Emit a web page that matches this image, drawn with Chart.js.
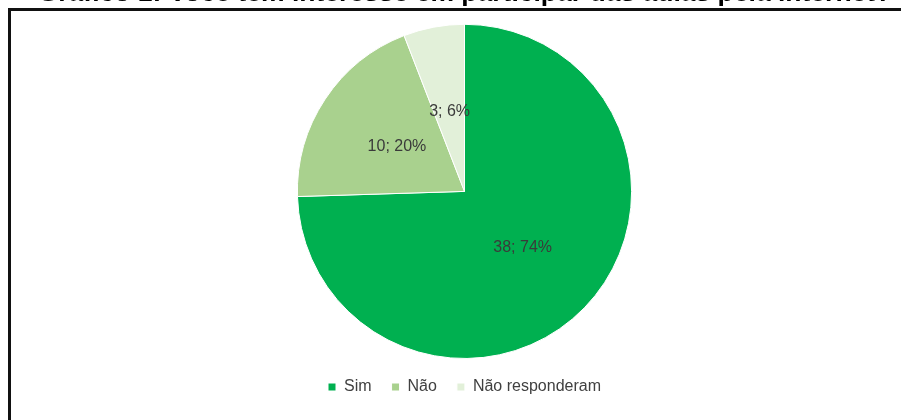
<!DOCTYPE html>
<html>
<head>
<meta charset="utf-8">
<script src="https://cdn.jsdelivr.net/npm/chart.js@4"></script>
<style>
  html, body { margin: 0; padding: 0; background: #fff; }
  .page { position: relative; width: 901px; height: 420px; overflow: hidden; background: #fff; }
  .frame { position: absolute; left: 8px; top: 8px; width: 940px; height: 480px; border: 3px solid #111; }
  .chart-box { position: absolute; left: 14px; top: -25px; width: 901px; height: 445px; }
</style>
</head>
<body>
<div class="page">
  <div class="frame"></div>
  <div class="chart-box"><canvas id="pie"></canvas></div>
</div>
<script>
const categories = ['Sim', 'Não', 'Não responderam'];
const answers = [38, 10, 3];
const percents = [74, 20, 6];
const sliceColors = ['#00B050', '#A9D18E', '#E2F0D9'];

// Excel style "value; percent" labels inside each slice
const sliceLabels = {
  id: 'sliceLabels',
  afterDatasetsDraw(chart) {
    const ctx = chart.ctx;
    const meta = chart.getDatasetMeta(0);
    ctx.save();
    ctx.font = '16px "Liberation Sans", Arial, sans-serif';
    ctx.fillStyle = '#3a3a3a';
    ctx.textAlign = 'center';
    ctx.textBaseline = 'middle';
    meta.data.forEach((arc, i) => {
      const mid = (arc.startAngle + arc.endAngle) / 2;
      const r = arc.outerRadius * 0.485;
      ctx.fillText(answers[i] + '; ' + percents[i] + '%', arc.x + Math.cos(mid) * r, arc.y + Math.sin(mid) * r);
    });
    ctx.restore();
  }
};

new Chart(document.getElementById('pie').getContext('2d'), {
  type: 'pie',
  data: {
    labels: categories,
    datasets: [{
      data: answers,
      backgroundColor: sliceColors,
      borderColor: '#ffffff',
      borderWidth: 1
    }]
  },
  options: {
    responsive: true,
    maintainAspectRatio: false,
    animation: false,
    layout: { padding: { bottom: 15 } },
    plugins: {
      tooltip: { enabled: false },
      title: {
        display: true,
        text: 'Gráfico 1: Você tem interesse em participar das aulas pela internet?',
        color: '#000',
        font: { family: '"Liberation Sans", Arial, sans-serif', size: 26.5, weight: 'bold' },
        padding: { top: 3, bottom: 14 }
      },
      legend: {
        position: 'bottom',
        labels: {
          color: '#404040',
          font: { family: '"Liberation Sans", Arial, sans-serif', size: 16 },
          boxWidth: 8,
          boxHeight: 8,
          padding: 20
        }
      }
    }
  },
  plugins: [sliceLabels]
});
</script>
</body>
</html>
